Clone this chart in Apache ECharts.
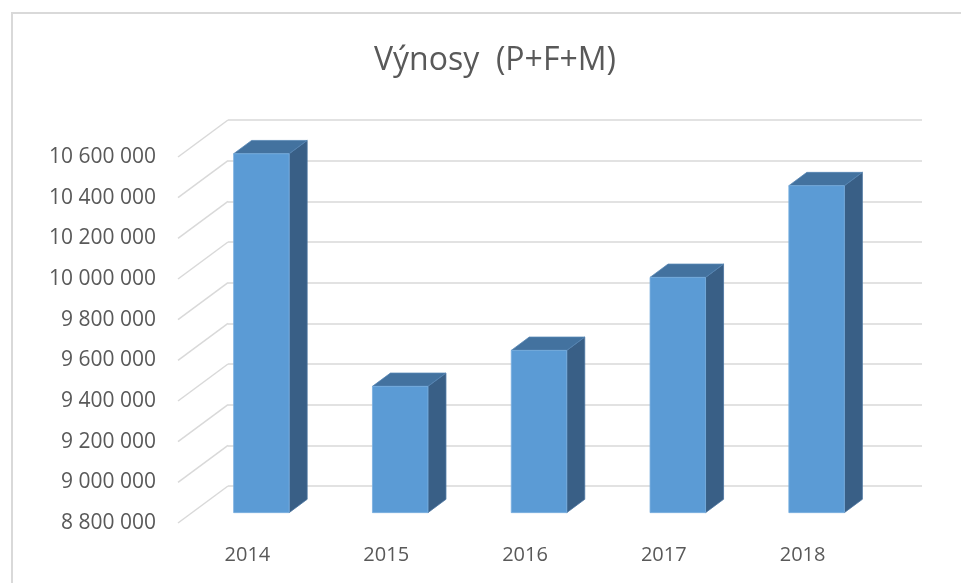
<!DOCTYPE html>
<html>
<head>
<meta charset="utf-8">
<script src="https://cdn.jsdelivr.net/npm/echarts@6/dist/echarts.min.js"></script>
<style>
  html, body { margin: 0; padding: 0; background: #fff; }
  #chart { width: 961px; height: 583px; }
</style>
</head>
<body>
<div id="chart"></div>
<script>
// data
const years = ['2014', '2015', '2016', '2017', '2018']
const revenue = [10565000, 9421000, 9598000, 9957000, 10408000]
const ticks = [8800000, 9000000, 9200000, 9400000, 9600000, 9800000, 10000000, 10200000, 10400000, 10600000]
const axisMin = 8800000
const axisMax = 10600000
const axisStep = 200000

// pseudo 3D: shift of the back wall against the front plane
const DEPTH_X = 50
const DEPTH_Y = -37
const BAR_FRONT = 0.28 // bar front face, part of the depth
const BAR_DEPTH = 0.36 // bar thickness, part of the depth

const FRONT = { left: 178, right: 89, top: 157, bottom: 60 }
const TEXT = '#595959'
const GRID_LINE = '#d9d9d9'
const FONT = 'Open Sans'

// 10600000 -> "10 600 000"
function spaced(v) {
  return String(v).replace(/\B(?=(\d{3})+(?!\d))/g, ' ')
}

const chart = echarts.init(document.getElementById('chart'))

chart.setOption({
  backgroundColor: '#fff',
  animation: false,
  title: {
    text: 'Výnosy  (P+F+M)',
    left: 369,
    top: 40,
    textStyle: { fontFamily: FONT, fontSize: 32, fontWeight: 'normal', color: TEXT }
  },
  graphic: [
    {
      type: 'polyline',
      shape: { points: [[12, 583], [12, 13], [961, 13]] },
      style: { stroke: GRID_LINE, lineWidth: 2, fill: null }
    }
  ],
  grid: [
    // front plane: labels and bars
    { left: FRONT.left, right: FRONT.right, top: FRONT.top, bottom: FRONT.bottom },
    // back wall: gridlines
    {
      left: FRONT.left + DEPTH_X,
      right: FRONT.right - DEPTH_X,
      top: FRONT.top + DEPTH_Y,
      bottom: FRONT.bottom - DEPTH_Y
    }
  ],
  xAxis: [
    {
      gridIndex: 0,
      type: 'category',
      data: years,
      axisLine: { show: false },
      axisTick: { show: false },
      axisLabel: { margin: 22, fontFamily: FONT, fontSize: 20, color: TEXT }
    },
    {
      gridIndex: 1,
      type: 'category',
      data: years,
      show: false
    }
  ],
  yAxis: [
    {
      gridIndex: 0,
      type: 'value',
      min: axisMin,
      max: axisMax,
      interval: axisStep,
      axisLine: { show: false },
      axisTick: { show: false },
      splitLine: { show: false },
      axisLabel: {
        margin: 22,
        fontFamily: FONT,
        fontSize: 21,
        color: TEXT,
        formatter: spaced
      }
    },
    {
      gridIndex: 1,
      type: 'value',
      min: axisMin,
      max: axisMax,
      interval: axisStep,
      axisLine: { show: false },
      axisTick: { show: false },
      axisLabel: { show: false },
      splitLine: { lineStyle: { color: GRID_LINE, width: 1.5 } }
    }
  ],
  series: [
    {
      // diagonal lines from each label to the back wall
      type: 'custom',
      xAxisIndex: 0,
      yAxisIndex: 0,
      clip: false,
      silent: true,
      data: ticks.map(v => [0, v]),
      renderItem(params, api) {
        const y = api.coord([0, api.value(1)])[1]
        const x = params.coordSys.x
        return {
          type: 'line',
          shape: { x1: x, y1: y, x2: x + DEPTH_X, y2: y + DEPTH_Y },
          style: { stroke: GRID_LINE, lineWidth: 1.5 }
        }
      }
    },
    {
      type: 'custom',
      xAxisIndex: 0,
      yAxisIndex: 0,
      clip: false,
      data: years.map((y, i) => [i, revenue[i]]),
      renderItem(params, api) {
        const top = api.coord([api.value(0), api.value(1)])
        const base = api.coord([api.value(0), axisMin])
        const w = api.size([1, 0])[0] * 0.4
        const fx = BAR_FRONT * DEPTH_X
        const fy = BAR_FRONT * DEPTH_Y
        const dx = BAR_DEPTH * DEPTH_X
        const dy = BAR_DEPTH * DEPTH_Y
        const x0 = top[0] - w / 2 + fx
        const x1 = x0 + w
        const y0 = top[1] + fy
        const y1 = base[1] + fy
        return {
          type: 'group',
          children: [
            {
              type: 'polygon',
              shape: { points: [[x1, y0], [x1 + dx, y0 + dy], [x1 + dx, y1 + dy], [x1, y1]] },
              style: { fill: '#395f86', stroke: '#4a74a0', lineWidth: 0.8 }
            },
            {
              type: 'polygon',
              shape: { points: [[x0, y0], [x0 + dx, y0 + dy], [x1 + dx, y0 + dy], [x1, y0]] },
              style: { fill: '#43729f', stroke: '#5585b4', lineWidth: 0.8 }
            },
            {
              type: 'rect',
              shape: { x: x0, y: y0, width: w, height: y1 - y0 },
              style: { fill: '#5b9bd5', stroke: '#79afe0', lineWidth: 0.8 }
            }
          ]
        }
      }
    }
  ]
})
</script>
</body>
</html>
